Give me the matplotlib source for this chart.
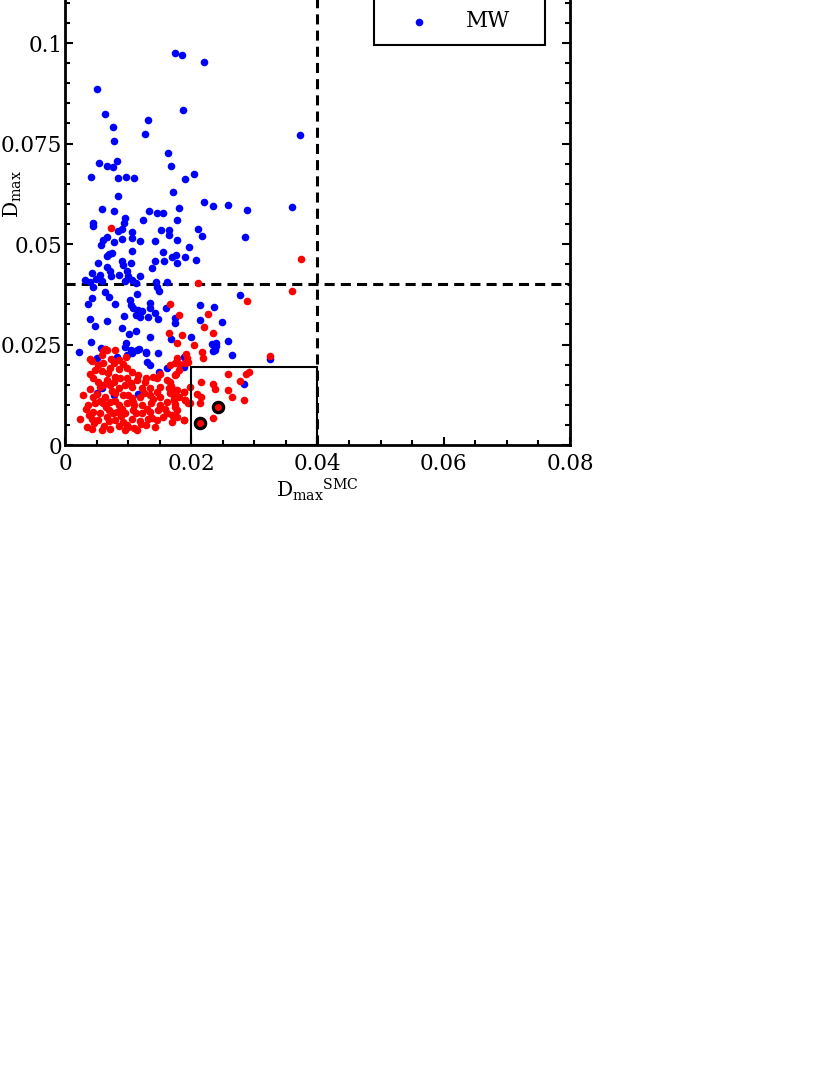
import numpy as np
import matplotlib
matplotlib.use("Agg")
import matplotlib.pyplot as plt
from matplotlib.ticker import MultipleLocator, FuncFormatter
from matplotlib.patches import Rectangle

plt.rcParams['font.family'] = ['DejaVu Serif']
plt.rcParams['mathtext.fontset'] = 'dejavuserif'

# values in units of 1e-3
mw_x = [17.4, 18.5, 22.0, 5.1, 6.3, 13.2, 7.6, 12.7, 18.7, 7.8, 37.2, 16.3, 5.4, 6.7, 7.6, 8.2,
        16.8, 4.1, 8.4, 9.7, 10.9, 20.4, 19.0, 17.1, 8.4, 22.0, 23.5, 25.8, 28.8, 36.0, 5.9, 7.8,
        13.3, 14.6, 15.5, 18.1, 17.7, 4.4, 4.4, 9.5, 9.4, 12.4, 8.4, 9.0, 10.6, 15.2, 16.5, 16.5,
        21.1, 21.7, 6.7, 6.0, 5.7, 7.8, 9.0, 10.6, 11.9, 14.3, 17.7, 19.7, 15.5, 17.6, 7.4, 6.7,
        10.6, 28.5, 7.0, 16.9, 19.0, 20.8, 14.2, 15.7, 17.8, 5.3, 9.0, 9.2, 10.5, 6.6, 7.1, 13.8,
        4.3, 5.5, 7.3, 8.6, 9.8, 10.0, 11.9, 3.1, 3.9, 4.9, 5.8, 9.5, 10.6, 11.3, 14.4, 16.1,
        4.5, 6.3, 7.0, 11.4, 14.5, 14.9, 3.6, 4.2, 7.9, 10.3, 10.5, 10.8, 11.5, 12.2, 13.5, 13.5,
        14.3, 14.8, 13.2, 11.9, 11.3, 16.0, 17.4, 17.4, 21.4, 23.6, 21.4, 3.9, 6.6, 9.4, 4.8, 9.0,
        11.2, 10.1, 13.4, 16.8, 19.9, 23.9, 2.2, 4.1, 5.7, 9.6, 9.5, 10.5, 11.4, 11.7, 12.8, 14.8,
        23.7, 27.8, 24.9, 25.9, 23.3, 24.0, 26.4, 18.9, 23.5, 32.4, 18.8, 28.3, 5.0, 8.2, 9.8,
        10.6, 12.8, 13.0, 13.4, 14.9, 16.2, 19.0, 5.1, 5.8, 7.7, 11.5]
mw_y = [97.5, 97.0, 95.3, 88.6, 82.3, 80.8, 79.1, 77.4, 83.3, 75.6, 77.1, 72.6, 70.1, 69.4, 69.2, 70.6,
        69.4, 66.7, 66.4, 66.7, 66.4, 67.4, 66.2, 62.9, 61.9, 60.4, 59.5, 59.7, 58.5, 59.2, 58.7, 58.2,
        58.2, 57.7, 57.7, 59.0, 56.0, 55.2, 54.5, 56.5, 55.2, 56.0, 53.2, 53.7, 53.0, 53.5, 53.5, 52.2,
        53.7, 52.0, 51.7, 51.0, 49.8, 50.5, 51.2, 51.5, 50.7, 50.7, 51.0, 49.3, 48.0, 47.3, 47.8, 47.0,
        48.3, 51.7, 47.5, 46.8, 46.7, 46.0, 45.8, 45.8, 45.2, 45.2, 45.8, 44.8, 45.2, 44.4, 43.4, 44.1,
        42.7, 42.3, 42.0, 42.3, 43.4, 42.0, 42.0, 41.0, 40.6, 41.2, 40.9, 40.9, 41.0, 40.2, 40.5, 40.6,
        39.4, 38.1, 36.9, 37.6, 39.2, 38.4, 35.2, 36.5, 35.1, 36.2, 34.8, 34.0, 33.6, 33.3, 35.4, 34.0,
        32.8, 31.3, 31.9, 31.9, 32.3, 34.2, 31.5, 30.3, 34.8, 34.4, 31.1, 31.3, 30.8, 32.2, 29.6, 29.2,
        28.4, 27.6, 26.9, 26.3, 26.9, 25.3, 23.2, 25.7, 24.2, 25.5, 24.3, 23.6, 23.6, 24.0, 23.2, 23.0,
        23.6, 37.3, 30.5, 26.0, 25.1, 24.6, 22.4, 22.0, 23.4, 21.3, 19.5, 15.2, 21.6, 21.8, 22.4,
        23.0, 23.0, 20.7, 19.9, 18.2, 19.1, 21.8, 13.0, 14.1, 12.4, 12.7]

smc_x = [4.2, 6.1, 7.7, 8.5, 9.2, 16.6, 17.4, 18.0, 19.0, 4.8, 5.8, 7.1, 8.5, 9.8, 10.6, 11.6,
         14.0, 15.1, 17.4, 18.0, 4.5, 5.3, 6.6, 7.7, 8.7, 9.8, 11.4, 12.9, 14.5, 16.1, 5.5, 7.1,
         8.5, 9.5, 10.6, 12.2, 13.5, 15.1, 16.4, 17.7, 18.8, 19.8, 2.9, 4.5, 6.3, 7.9, 9.2, 10.6,
         11.9, 13.5, 15.1, 16.6, 18.0, 19.0, 3.7, 4.8, 6.1, 7.1, 8.5, 9.8, 10.8, 12.2, 13.7, 15.1,
         16.1, 17.4, 19.5, 3.4, 4.5, 5.5, 6.9, 8.2, 9.5, 10.8, 12.2, 13.5, 14.8, 16.1, 17.7, 2.3,
         4.2, 5.3, 6.6, 7.9, 9.2, 10.6, 11.9, 13.2, 14.5, 15.6, 16.9, 18.8, 4.2, 5.8, 7.1, 8.5,
         10.0, 11.4, 12.9, 14.3,
         4.0, 5.0, 6.0, 7.5, 8.0, 9.0, 10.0, 11.0, 12.5, 13.0, 14.0, 6.5, 5.5, 7.0, 8.8, 9.8,
         11.2, 12.0, 13.8, 4.6, 3.8, 6.2, 7.6, 10.4, 12.6, 14.6, 15.8, 16.8, 17.2, 3.5, 9.5, 11.0,
         8.0, 6.8, 5.2, 4.0, 7.3, 9.6, 6.0, 5.8,
         21.0, 16.7, 18.1, 22.6, 22.0, 23.5, 16.4, 18.6, 17.7, 20.5, 6.6, 6.3, 7.9, 21.7, 19.1, 17.7,
         19.3, 21.9, 4.0, 37.4, 35.9, 28.8, 32.4, 19.5, 17.6, 16.6, 25.9, 29.1, 28.7, 21.5, 23.4,
         23.7, 27.7, 25.9, 17.4, 18.9, 17.2, 20.9, 21.6, 26.4, 28.3, 19.0, 17.2, 17.4, 19.8, 21.4,
         23.5, 18.9, 16.9, 17.7, 7.3]
smc_y = [21.0, 20.5, 20.3, 21.1, 20.1, 19.9, 20.5, 20.1, 20.5, 18.7, 18.5, 19.1, 18.8, 19.1, 18.2, 17.4,
         17.0, 17.8, 17.4, 18.7, 16.6, 15.8, 16.3, 15.8, 16.6, 16.6, 16.2, 16.6, 16.6, 16.2, 14.5, 14.9,
         14.1, 14.9, 14.5, 14.1, 14.3, 14.5, 14.1, 13.7, 13.3, 14.5, 12.4, 12.0, 12.0, 12.9, 12.4, 11.6,
         12.0, 12.4, 12.0, 12.9, 12.0, 11.2, 10.0, 10.5, 10.4, 10.8, 10.0, 10.4, 10.8, 10.0, 10.4, 10.0,
         10.8, 10.2, 10.4, 8.9, 8.3, 7.9, 8.7, 8.3, 7.9, 8.7, 7.9, 8.3, 8.7, 7.9, 8.7, 6.6,
         6.6, 6.2, 7.0, 6.2, 5.8, 6.6, 6.1, 6.6, 6.2, 7.0, 5.8, 6.2, 4.1, 3.7, 4.1, 4.7,
         4.6, 3.7, 5.0, 4.6,
         14.0, 12.8, 15.0, 13.5, 11.0, 9.0, 12.5, 10.0, 13.0, 9.0, 11.5, 9.5, 11.0, 6.0, 7.2, 5.0,
         8.0, 5.2, 6.8, 5.5, 7.6, 4.8, 8.0, 15.5, 15.8, 13.2, 9.0, 14.8, 11.8, 4.5, 3.8, 4.2,
         17.0, 18.0, 20.0, 17.8, 21.5, 22.0, 23.5, 22.3,
         40.2, 35.1, 32.3, 32.5, 29.3, 27.8, 27.8, 27.4, 25.3, 24.9, 23.6, 24.0, 23.6, 23.2, 22.6, 21.6,
         21.6, 21.7, 21.3, 46.4, 38.3, 35.8, 22.1, 20.7, 17.6, 15.8, 17.6, 18.2, 17.7, 15.6, 15.3,
         13.9, 16.0, 13.7, 13.7, 13.3, 12.7, 12.7, 12.0, 11.9, 11.2, 11.2, 11.2, 9.5, 10.5, 10.4,
         6.7, 6.2, 7.5, 7.0, 54.0]

# two highlighted objects
sel_x = [21.4, 24.2]
sel_y = [5.5, 9.5]

cut = 0.04
box_top = 0.0194

fig = plt.figure(figsize=(8.3, 10.75), dpi=100)
ax = fig.add_axes([0.0783, 0.586, 0.6084, 0.4674])

ax.scatter(np.array(mw_x) / 1000, np.array(mw_y) / 1000, s=30, color='blue', lw=0, label='MW', zorder=2)
ax.scatter(np.array(smc_x) / 1000, np.array(smc_y) / 1000, s=30, color='red', lw=0, label='SMC', zorder=3)
ax.scatter(np.array(sel_x) / 1000, np.array(sel_y) / 1000, s=55, facecolor='red', edgecolor='black',
           linewidth=2.3, zorder=4)

ax.axhline(cut, color='black', lw=2.2, dashes=(3.3, 2.0), zorder=1)
ax.axvline(cut, color='black', lw=2.2, dashes=(3.3, 2.0), zorder=1)
ax.add_patch(Rectangle((0.02, 0), 0.02, box_top, fill=False, edgecolor='black', lw=1.5, zorder=5))

ax.set_xlim(0, 0.08)
ax.set_ylim(0, 0.125)
ax.xaxis.set_major_locator(MultipleLocator(0.02))
ax.xaxis.set_minor_locator(MultipleLocator(0.005))
ax.yaxis.set_major_locator(MultipleLocator(0.025))
ax.yaxis.set_minor_locator(MultipleLocator(0.005))
fmt = FuncFormatter(lambda v, p: '%g' % round(v, 6))
ax.xaxis.set_major_formatter(fmt)
ax.yaxis.set_major_formatter(fmt)
ax.tick_params(which='both', direction='in', top=True, right=True, labelsize=15.5, width=1.5)
ax.tick_params(which='major', length=6)
ax.tick_params(which='minor', length=3.5)
ax.tick_params(axis='x', pad=6)
ax.tick_params(axis='y', pad=2)
for sp in ax.spines.values():
    sp.set_linewidth(2)

ax.set_xlabel(r'D$_{\rm max}$$^{\rm SMC}$', fontsize=14.5, labelpad=1)
ax.set_ylabel(r'D$_{\rm max}$', fontsize=14.5)
ax.yaxis.set_label_coords(-0.081, 0.5)

h, l = ax.get_legend_handles_labels()
leg = ax.legend(h[::-1], l[::-1], loc='lower left', bbox_to_anchor=(0.612, 0.796, 0.3386, 0), mode='expand',
                borderaxespad=0, fontsize=15.5, handlelength=3, handletextpad=0.65, borderpad=0.6,
                fancybox=False, edgecolor='black', framealpha=1, scatterpoints=1)
leg.get_frame().set_linewidth(1.5)

fig.savefig('out.png', dpi=100)
